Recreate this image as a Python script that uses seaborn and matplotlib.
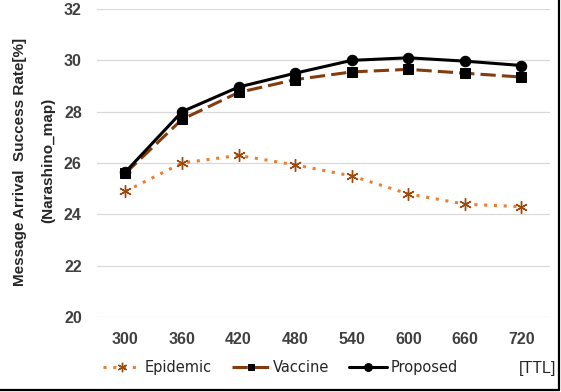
import numpy as np
import pandas as pd
import matplotlib
matplotlib.use("Agg")
import matplotlib.pyplot as plt
from matplotlib.lines import Line2D
import seaborn as sns

# data
ttl = ["300", "360", "420", "480", "540", "600", "660", "720"]
epidemic = [24.9, 26.0, 26.3, 25.93, 25.5, 24.8, 24.4, 24.3]
vaccine = [25.6, 27.7, 28.75, 29.25, 29.55, 29.65, 29.5, 29.35]
proposed = [25.65, 28.0, 28.96, 29.5, 30.0, 30.1, 29.97, 29.8]
yticks = [20, 22, 24, 26, 28, 30, 32]

sns.set_style("white")
plt.rcParams['font.family'] = ['Liberation Sans', 'DejaVu Sans']

fig = plt.figure(figsize=(5.61, 3.92), dpi=100)
ax = fig.add_axes([0.173, 0.191, 0.807, 0.786])

x = np.arange(len(ttl))
sns.lineplot(x=x, y=epidemic, ax=ax, color="#ED7D31", linestyle=(0, (1, 2.2)), lw=2.2,
             marker=(6, 2, 0), markersize=9, markeredgecolor="#9E480E",
             markerfacecolor="#9E480E", markeredgewidth=1.0, label="Epidemic")
sns.lineplot(x=x, y=vaccine, ax=ax, color="#843C0C", linestyle=(0, (5, 2)), lw=2.2,
             marker="s", markersize=6.5, markeredgecolor="black",
             markerfacecolor="black", label="Vaccine")
sns.lineplot(x=x, y=proposed, ax=ax, color="black", linestyle="-", lw=2.2,
             marker="o", markersize=7.5, markeredgecolor="black",
             markerfacecolor="black", label="Proposed")

ax.set_xlim(-0.5, len(ttl) - 0.5)
ax.set_ylim(20, 32)
ax.set_xticks(x)
ax.set_xticklabels(ttl)
ax.set_yticks(yticks)
ax.tick_params(axis="both", length=0, labelsize=11.5, labelcolor="#404040")
ax.tick_params(axis="x", pad=11)
ax.tick_params(axis="y", pad=11)
for lab in ax.get_xticklabels() + ax.get_yticklabels():
    lab.set_fontweight("bold")
ax.grid(axis="y", color="#D9D9D9", lw=0.9)
ax.grid(axis="x", visible=False)
sns.despine(ax=ax, left=True, bottom=True)

leg = ax.legend(loc="center", bbox_to_anchor=(0.25, 0.032, 0.5, 0.06),
                bbox_transform=fig.transFigure, ncol=3, frameon=False,
                prop={"family": "DejaVu Sans", "size": 10.5}, markerscale=0.75,
                handlelength=2.6, columnspacing=1.4, handletextpad=0.2)
for t in leg.get_texts():
    t.set_color("#262626")

fig.text(0.036, 0.587, "Message Arrival  Success Rate[%]", rotation=90,
         ha="center", va="center", fontsize=11, fontweight="bold")
fig.text(0.086, 0.59, "(Narashino_map)", rotation=90,
         ha="center", va="center", fontsize=11, fontweight="bold")
fig.text(0.991, 0.061, "[TTL]", ha="right", va="center", fontsize=11.5, color="#262626")

# frame edges on right and bottom
fig.add_artist(Line2D([0.996, 0.996], [0.005, 1.0], transform=fig.transFigure,
                      color="black", lw=1.6))
fig.add_artist(Line2D([0.0, 0.996], [0.005, 0.005], transform=fig.transFigure,
                      color="black", lw=1.6))

fig.savefig("out.png", dpi=100)
